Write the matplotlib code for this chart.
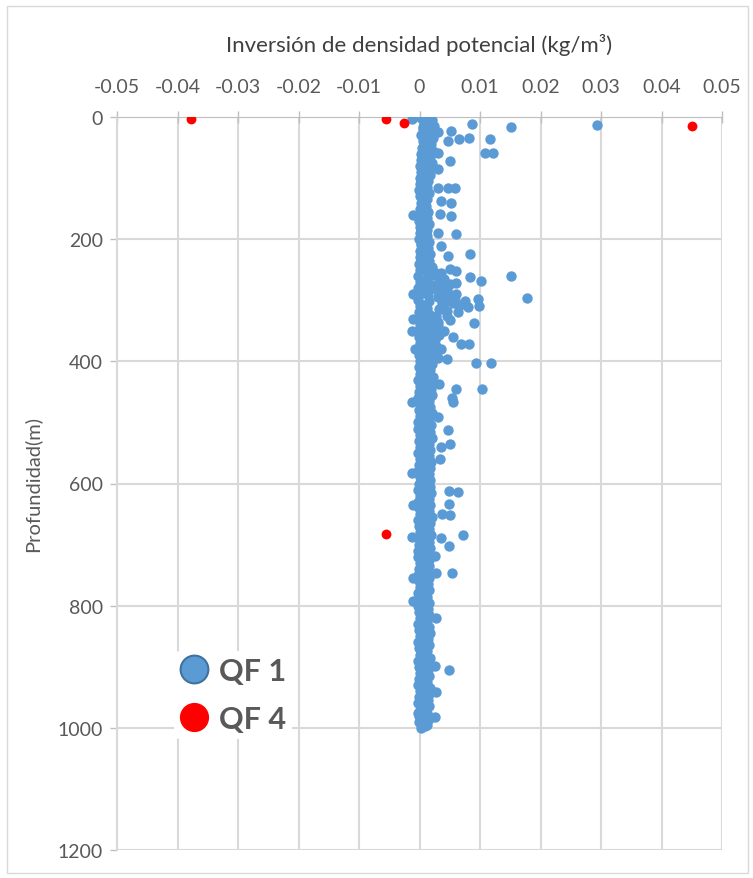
import matplotlib
matplotlib.use('Agg')
import matplotlib.pyplot as plt
from matplotlib.lines import Line2D
from matplotlib.patches import Rectangle

plt.rcParams['font.family'] = ['Lato', 'DejaVu Sans']

# core column of QF 1 points (dense band near zero), read in four passes
core_depth_a = [0, 10, 20, 30, 40, 50, 60, 70, 80, 90, 100,
                110, 120, 130, 140, 150, 160, 170, 180, 190, 200, 210, 220, 230, 240, 250,
                260, 270, 280, 290, 300, 310, 320, 330, 340, 350, 360, 370, 380, 390, 400,
                410, 420, 430, 440, 450, 460, 470, 480, 490, 500, 510, 520, 530, 540, 550,
                560, 570, 580, 590, 600,
                610, 620, 630, 640, 650, 660, 670, 680, 690, 700, 710, 720, 730, 740, 750,
                760, 770, 780, 790, 800,
                810, 820, 830, 840, 850, 860, 870, 880, 890, 900, 910, 920, 930, 940, 950,
                960, 970, 980, 990, 1000]
core_val_a = [0.0004, 0.0008, 0.0006, 0.0003, 0.0005, 0.0004, 0.0002, 0.0003, 0.0001, 0.0002, 0.0000,
              0.0001, -0.0001, 0.0000, 0.0002, 0.0000, -0.0002, -0.0001, 0.0001, 0.0000, -0.0001,
              0.0002, 0.0000, 0.0001, -0.0001, 0.0000,
              -0.0002, 0.0000, -0.0003, 0.0001, -0.0002, 0.0000, -0.0001, -0.0002, 0.0000, -0.0003,
              -0.0001, 0.0000, -0.0002, -0.0001, 0.0000,
              -0.0001, 0.0000, -0.0002, 0.0001, -0.0001, -0.0002, 0.0000, -0.0001, 0.0001, -0.0002,
              -0.0003, 0.0000, -0.0001, 0.0001, -0.0002, 0.0000, -0.0001, -0.0002, 0.0000, -0.0001,
              -0.0002, 0.0000, -0.0003, -0.0001, 0.0000, -0.0002, -0.0001, 0.0000, -0.0002, -0.0001,
              -0.0003, -0.0002, 0.0000, -0.0001, -0.0002, -0.0001, 0.0000, -0.0002, -0.0001, -0.0002,
              -0.0001, 0.0000, -0.0002, -0.0001, 0.0000, -0.0002, -0.0001, 0.0000, -0.0002, -0.0001,
              0.0000, -0.0001, -0.0002, 0.0000, -0.0001, -0.0002, 0.0000, -0.0001, -0.0001, 0.0003]

core_depth_b = [5, 15, 25, 35, 45, 55, 65, 75, 85, 95,
                105, 115, 125, 135, 145, 155, 165, 175, 185, 195, 205, 215, 225, 235, 245,
                255, 265, 275, 285, 295, 305, 315, 325, 335, 345, 355, 365, 375, 385, 395,
                405, 415, 425, 435, 445, 455, 465, 475, 485, 495, 505, 515, 525, 535, 545,
                555, 565, 575, 585, 595,
                605, 615, 625, 635, 645, 655, 665, 675, 685, 695, 705, 715, 725, 735, 745,
                755, 765, 775, 785, 795,
                805, 815, 825, 835, 845, 855, 865, 875, 885, 895, 905, 915, 925, 935, 945,
                955, 965, 975, 985, 995]
core_val_b = [0.0020, 0.0024, 0.0018, 0.0022, 0.0019, 0.0023, 0.0017, 0.0020, 0.0016, 0.0018,
              0.0014, 0.0012, 0.0015, 0.0013, 0.0011, 0.0014, 0.0012, 0.0016, 0.0013, 0.0012,
              0.0015, 0.0014, 0.0018, 0.0016, 0.0020,
              0.0028, 0.0032, 0.0025, 0.0035, 0.0030, 0.0038, 0.0033, 0.0027, 0.0031, 0.0026,
              0.0029, 0.0024, 0.0027, 0.0022, 0.0020,
              0.0020, 0.0018, 0.0022, 0.0017, 0.0019, 0.0021, 0.0016, 0.0018, 0.0020, 0.0015,
              0.0019, 0.0017, 0.0021, 0.0016, 0.0018, 0.0015, 0.0019, 0.0017, 0.0016, 0.0018,
              0.0017, 0.0019, 0.0015, 0.0018, 0.0016, 0.0020, 0.0017, 0.0015, 0.0019, 0.0016,
              0.0018, 0.0014, 0.0016, 0.0015, 0.0013, 0.0015, 0.0014, 0.0016, 0.0013, 0.0015,
              0.0014, 0.0016, 0.0013, 0.0015, 0.0017, 0.0014, 0.0016, 0.0013, 0.0018, 0.0015,
              0.0014, 0.0016, 0.0013, 0.0017, 0.0015, 0.0014, 0.0016, 0.0013, 0.0015, 0.0012]

core_depth_c = [2, 12, 22, 32, 42, 52, 62, 72, 82, 92,
                102, 112, 122, 132, 142, 152, 162, 172, 182, 192, 202, 212, 222, 232, 242,
                252, 262, 272, 282, 292, 302, 312, 322, 332, 342, 352, 362, 372, 382, 392,
                402, 412, 422, 432, 442, 452, 462, 472, 482, 492, 502, 512, 522, 532, 542,
                552, 562, 572, 582, 592,
                602, 612, 622, 632, 642, 652, 662, 672, 682, 692, 702, 712, 722, 732, 742,
                752, 762, 772, 782, 792,
                802, 812, 822, 832, 842, 852, 862, 872, 882, 892, 902, 912, 922, 932, 942,
                952, 962, 972, 982, 992]
core_val_c = [0.0010, 0.0012, 0.0009, 0.0011, 0.0008, 0.0010, 0.0012, 0.0009, 0.0011, 0.0008,
              0.0007, 0.0006, 0.0008, 0.0005, 0.0007, 0.0006, 0.0008, 0.0007, 0.0005, 0.0006,
              0.0008, 0.0007, 0.0009, 0.0008, 0.0010,
              0.0012, 0.0015, 0.0011, 0.0018, 0.0014, 0.0016, 0.0012, 0.0015, 0.0013, 0.0011,
              0.0014, 0.0012, 0.0010, 0.0011, 0.0009,
              0.0008, 0.0009, 0.0007, 0.0010, 0.0008, 0.0006, 0.0009, 0.0007, 0.0008, 0.0010,
              0.0007, 0.0009, 0.0008, 0.0006, 0.0009, 0.0007, 0.0008, 0.0006, 0.0009, 0.0007,
              0.0008, 0.0006, 0.0009, 0.0007, 0.0008, 0.0010, 0.0007, 0.0008, 0.0006, 0.0009,
              0.0007, 0.0008, 0.0006, 0.0007, 0.0005, 0.0007, 0.0006, 0.0008, 0.0006, 0.0007,
              0.0006, 0.0008, 0.0007, 0.0005, 0.0008, 0.0006, 0.0007, 0.0009, 0.0006, 0.0008,
              0.0007, 0.0005, 0.0008, 0.0006, 0.0007, 0.0009, 0.0006, 0.0007, 0.0008, 0.0006]

core_depth_d = [7, 17, 27, 37, 47, 57, 67, 77, 87, 97,
                107, 117, 127, 137, 147, 157, 167, 177, 187, 197, 207, 217, 227, 237, 247,
                257, 267, 277, 287, 297, 307, 317, 327, 337, 347, 357, 367, 377, 387, 397,
                407, 417, 427, 437, 447, 457, 467, 477, 487, 497, 507, 517, 527, 537, 547,
                557, 567, 577, 587, 597,
                607, 617, 627, 637, 647, 657, 667, 677, 687, 697, 707, 717, 727, 737, 747,
                757, 767, 777, 787, 797,
                807, 817, 827, 837, 847, 857, 867, 877, 887, 897, 907, 917, 927, 937, 947,
                957, 967, 977, 987, 997]
core_val_d = [0.0014, 0.0006, 0.0015, 0.0007, 0.0013, 0.0005, 0.0014, 0.0006, 0.0012, 0.0005,
              0.0004, 0.0010, 0.0003, 0.0009, 0.0004, 0.0010, 0.0003, 0.0009, 0.0004, 0.0011,
              0.0003, 0.0010, 0.0005, 0.0012, 0.0006,
              0.0022, 0.0006, 0.0040, 0.0008, 0.0036, 0.0005, 0.0045, 0.0007, 0.0025, 0.0006,
              0.0032, 0.0005, 0.0020, 0.0006, 0.0018,
              0.0004, 0.0012, 0.0003, 0.0013, 0.0005, 0.0011, 0.0003, 0.0012, 0.0004, 0.0013,
              0.0003, 0.0011, 0.0005, 0.0012, 0.0003, 0.0011, 0.0004, 0.0012, 0.0003, 0.0010,
              0.0003, 0.0011, 0.0004, 0.0012, 0.0003, 0.0011, 0.0005, 0.0010, 0.0003, 0.0012,
              0.0004, 0.0010, 0.0003, 0.0011, 0.0002, 0.0010, 0.0003, 0.0009, 0.0002, 0.0010,
              0.0003, 0.0010, 0.0002, 0.0011, 0.0003, 0.0010, 0.0004, 0.0011, 0.0002, 0.0010,
              0.0003, 0.0011, 0.0002, 0.0010, 0.0003, 0.0011, 0.0002, 0.0010, 0.0003, 0.0009]

# scattered QF 1 points off the core
out_depth = [4, 2, 3, 5, 11, 17, 13, 23, 25, 36, 35, 36, 39, 59, 59, 72, 59, 85,
             116, 117, 117, 137, 141, 161, 159, 162, 190, 192, 211, 224, 227,
             249, 252, 262, 261, 268, 272, 274, 290, 296, 298, 301, 310, 311, 320,
             337, 333, 360, 372, 372, 396, 402, 402, 445, 446, 460, 467, 437, 466,
             491, 513, 535, 541, 560, 583, 613, 614, 633, 636, 650, 652, 684, 689,
             702, 688, 718, 747, 746, 754, 793, 821, 905, 898, 941, 982, 976,
             255, 265, 280, 285, 295, 305, 315, 325, 340, 350, 365, 380, 395,
             305, 310, 300, 290, 290, 330, 350, 380]
out_val = [-0.0013, 0.0003, 0.0010, 0.0018, 0.0087, 0.0152, 0.0293, 0.0052, 0.0030,
           0.0065, 0.0082, 0.0117, 0.0047, 0.0108, 0.0121, 0.0050, 0.0030, 0.0030,
           0.0030, 0.0047, 0.0059, 0.0035, 0.0052, -0.0011, 0.0034, 0.0052, 0.0030,
           0.0060, 0.0035, 0.0083, 0.0047,
           0.0050, 0.0061, 0.0083, 0.0152, 0.0101, 0.0060, 0.0050, 0.0061, 0.0177,
           0.0097, 0.0075, 0.0098, 0.0080, 0.0064,
           0.0090, 0.0050, 0.0055, 0.0068, 0.0081, 0.0045, 0.0093, 0.0118, 0.0061,
           0.0104, 0.0053, -0.0013, 0.0033, 0.0055,
           0.0031, 0.0047, 0.0050, 0.0035, 0.0034, -0.0013, 0.0049, 0.0063, 0.0049,
           -0.0010, 0.0037, 0.0050, 0.0072, 0.0036,
           0.0049, -0.0013, 0.0026, 0.0053, 0.0027, -0.0010, -0.0010, 0.0028, 0.0048,
           0.0025, 0.0027, 0.0025, -0.0003,
           0.0035, 0.0040, 0.0045, 0.0030, 0.0042, 0.0055, 0.0038, 0.0045, 0.0030,
           0.0040, 0.0025, 0.0035, 0.0030,
           0.0040, 0.0065, 0.0058, 0.0048, -0.0010, -0.0010, -0.0012, -0.0008]

# QF 4 points
qf4_depth = [3, 4, 10, 15, 683]
qf4_val = [-0.0378, -0.0055, -0.0026, 0.0450, -0.0055]

blue = '#5b9bd5'
red = '#ff0000'
grid_c = '#d9d9d9'
txt_c = '#595959'

fig = plt.figure(figsize=(7.53, 8.79), dpi=100)
fig.patches.append(Rectangle((7 / 753, 5 / 879), 741 / 753, 867 / 879, transform=fig.transFigure,
                             facecolor='none', edgecolor=grid_c, linewidth=1.0))
ax = fig.add_axes([117 / 753, 1 - 851 / 879, 605 / 753, 733 / 879])

for xs, ys in [(core_val_a, core_depth_a), (core_val_b, core_depth_b),
               (core_val_c, core_depth_c), (core_val_d, core_depth_d), (out_val, out_depth)]:
    ax.scatter(xs, ys, s=56, color=blue, linewidths=0, zorder=3)
ax.scatter(qf4_val, qf4_depth, s=50, color=red, linewidths=0, zorder=4)

ax.set_xlim(-0.05, 0.05)
ax.set_ylim(1200, 0)
ax.set_xticks([-0.05, -0.04, -0.03, -0.02, -0.01, 0, 0.01, 0.02, 0.03, 0.04, 0.05])
ax.set_xticklabels(['-0.05', '-0.04', '-0.03', '-0.02', '-0.01', '0', '0.01', '0.02',
                    '0.03', '0.04', '0.05'])
ax.set_yticks([0, 200, 400, 600, 800, 1000, 1200])
ax.xaxis.tick_top()
ax.xaxis.set_label_position('top')
ax.tick_params(axis='x', direction='inout', length=9, width=1, color='#bfbfbf',
               labelsize=14, labelcolor=txt_c, pad=11)
ax.tick_params(axis='y', direction='out', length=5, width=1, color='#bfbfbf',
               labelsize=14, labelcolor=txt_c, pad=5)
ax.grid(True, color=grid_c, linewidth=1.5)
ax.set_axisbelow(True)
for side in ['right', 'bottom']:
    ax.spines[side].set_visible(False)
ax.spines['top'].set_color('#bfbfbf')
ax.spines['left'].set_color(grid_c)
ax.spines['left'].set_linewidth(1.5)

ax.set_xlabel('Inversión de densidad potencial (kg/m³)', fontsize=16, color='#404040', labelpad=20)
ax.set_ylabel('Profundidad(m)', fontsize=14.5, color=txt_c, labelpad=12)

handles = [Line2D([], [], marker='o', linestyle='none', markersize=20, markerfacecolor=blue,
                  markeredgecolor='#41719c', markeredgewidth=1.5),
           Line2D([], [], marker='o', linestyle='none', markersize=20, markerfacecolor=red,
                  markeredgecolor=red)]
leg = ax.legend(handles, ['QF 1', 'QF 4'], loc='upper left', bbox_to_anchor=(0.095, 0.272),
                borderaxespad=0, frameon=True, facecolor='white', edgecolor='none', framealpha=1,
                handlelength=0.9, handletextpad=0.35, labelspacing=0.65, borderpad=0.2,
                prop={'size': 22, 'weight': 'bold'})
for t in leg.get_texts():
    t.set_color(txt_c)

fig.savefig('out.png', dpi=100)
